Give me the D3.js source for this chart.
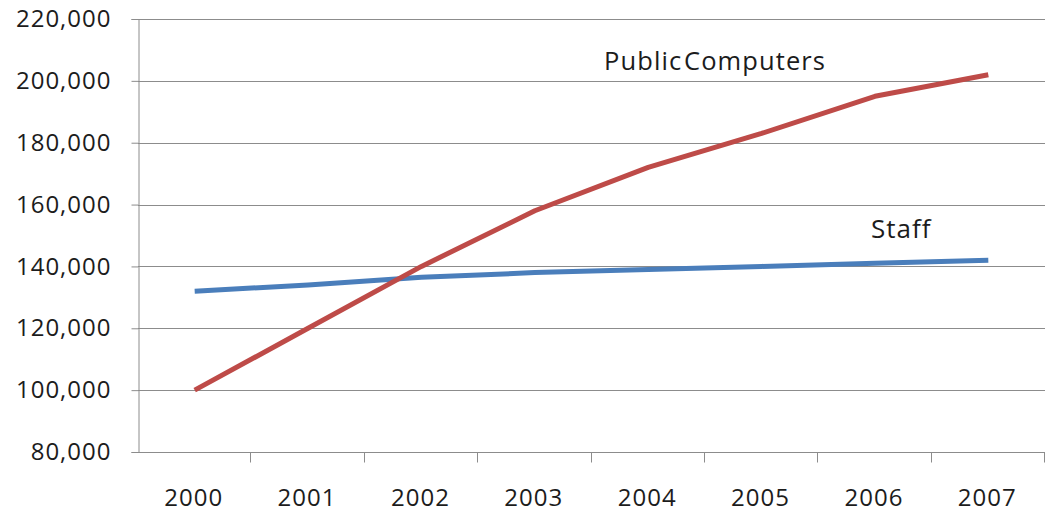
<!DOCTYPE html>
<html>
<head>
<meta charset="utf-8">
<script src="https://cdn.jsdelivr.net/npm/d3@7"></script>
<style>
  html, body { margin: 0; padding: 0; background: #fff; }
  svg { display: block; }
  text { font-family: "Open Sans", "DejaVu Sans", sans-serif; fill: #1c1c1c; }
</style>
</head>
<body>
<svg id="chart" width="1046" height="513"></svg>
<script>
// Yearly totals
const years = ["2000", "2001", "2002", "2003", "2004", "2005", "2006", "2007"];
const publicComputers = [100000, 120000, 140000, 158000, 172000, 183000, 195000, 202000];
const staff = [132000, 134000, 136500, 138000, 139000, 140000, 141000, 142000];
const yTicks = [80000, 100000, 120000, 140000, 160000, 180000, 200000, 220000];

const svg = d3.select("#chart");
const margin = { left: 138, right: 1, top: 19, bottom: 61 };
const W = 1046, H = 513;

const x = d3.scaleBand().domain(years).range([margin.left, W - margin.right]);
const y = d3.scaleLinear().domain([80000, 220000]).range([H - margin.bottom, margin.top]);

// horizontal gridlines
svg.append("g").selectAll("line").data(yTicks.slice(1)).join("line")
  .attr("x1", margin.left).attr("x2", W - margin.right)
  .attr("y1", d => Math.round(y(d)) + 0.5).attr("y2", d => Math.round(y(d)) + 0.5)
  .attr("stroke", "#8c8c8c").attr("stroke-width", 1);

// y axis
const yAxis = svg.append("g")
  .attr("transform", `translate(${margin.left + 0.5},0)`)
  .call(d3.axisLeft(y).tickValues(yTicks).tickSize(7).tickPadding(20)
    .tickFormat(d3.format(",")));
yAxis.selectAll("line, path").attr("stroke", "#8c8c8c");
yAxis.selectAll("text").style("font-size", "24px").style("letter-spacing", "1px")
  .attr("fill", "#1c1c1c")
  .style("font-family", '"Open Sans", sans-serif');

// x axis with tick marks between categories
const xAxisG = svg.append("g").attr("transform", `translate(0,${Math.round(y(80000)) + 0.5})`);
xAxisG.append("line").attr("x1", margin.left).attr("x2", W - margin.right)
  .attr("stroke", "#8c8c8c");
const boundaries = years.map(d => x(d)).concat([x(years[years.length - 1]) + x.bandwidth()]);
xAxisG.selectAll("line.tick").data(boundaries.slice(1)).join("line")
  .attr("class", "tick")
  .attr("x1", d => Math.round(d) - 0.5).attr("x2", d => Math.round(d) - 0.5)
  .attr("y1", 0).attr("y2", 10).attr("stroke", "#8c8c8c");
xAxisG.selectAll("text").data(years).join("text")
  .attr("x", d => x(d) + x.bandwidth() / 2 - 1)
  .attr("y", 53)
  .attr("text-anchor", "middle")
  .style("font-size", "24px").style("letter-spacing", "1px")
  .text(d => d);

// series lines
const line = d3.line().x((d, i) => x(years[i]) + x.bandwidth() / 2).y(d => y(d));
svg.append("path").datum(staff)
  .attr("d", line).attr("fill", "none")
  .attr("stroke", "#4a7ebb").attr("stroke-width", 5).attr("stroke-linejoin", "round");
svg.append("path").datum(publicComputers)
  .attr("d", line).attr("fill", "none")
  .attr("stroke", "#be4b48").attr("stroke-width", 5).attr("stroke-linejoin", "round");

// series labels
svg.append("text").attr("x", 604).attr("y", 70)
  .style("font-size", "25.5px").style("letter-spacing", "1.1px").style("word-spacing", "-6px")
  .text("Public Computers");
svg.append("text").attr("x", 871).attr("y", 238)
  .style("font-size", "26px").style("letter-spacing", "1px")
  .text("Staff");
</script>
</body>
</html>
